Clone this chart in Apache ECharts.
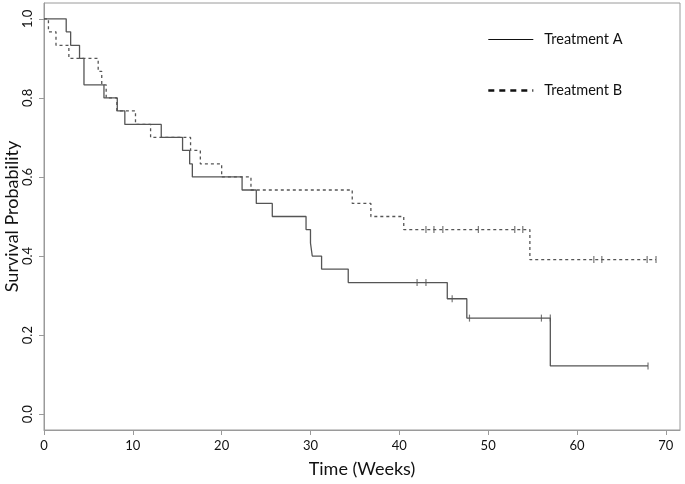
<!DOCTYPE html>
<html>
<head>
<meta charset="utf-8">
<script src="https://cdn.jsdelivr.net/npm/echarts@6/dist/echarts.min.js"></script>
<style>html,body{margin:0;padding:0;background:#fff}#c{width:685px;height:484px}</style>
</head>
<body>
<div id="c"></div>
<script>
// Treatment A (solid) step curve
const timesA = [0, 2.5, 3.0, 4.0, 4.5, 6.75, 8.25, 9.1, 13.2, 15.6, 16.4, 16.7, 22.3, 23.9, 25.7, 29.5, 30.0, 30.2, 31.25, 34.25, 45.4, 47.6, 57.0, 68.0];
const survA  = [1.0, 0.967, 0.933, 0.900, 0.833, 0.800, 0.767, 0.733, 0.700, 0.667, 0.633, 0.600, 0.567, 0.533, 0.500, 0.467, 0.433, 0.400, 0.367, 0.333, 0.292, 0.243, 0.122, 0.122];
const censorTimesA = [42.0, 43.0, 45.95, 47.9, 56.0, 57.0, 68.0];
const censorSurvA  = [0.333, 0.333, 0.292, 0.243, 0.243, 0.243, 0.122];

// Treatment B (dashed) step curve
const timesB = [0, 0.5, 1.35, 2.8, 6.1, 6.5, 7.0, 8.2, 10.3, 12.0, 16.5, 17.6, 20.0, 23.3, 34.7, 36.8, 40.5, 54.7, 68.9];
const survB  = [1.0, 0.967, 0.933, 0.900, 0.867, 0.833, 0.800, 0.767, 0.733, 0.700, 0.667, 0.633, 0.600, 0.567, 0.533, 0.500, 0.467, 0.391, 0.391];
const censorTimesB = [43.0, 43.9, 44.9, 48.9, 53.0, 53.9, 61.9, 62.8, 67.9, 68.9];
const censorSurvB  = [0.467, 0.467, 0.467, 0.467, 0.467, 0.467, 0.391, 0.391, 0.391, 0.391];

const xTicks = [0, 10, 20, 30, 40, 50, 60, 70];
const yTicks = [0, 0.2, 0.4, 0.6, 0.8, 1.0];
const seriesNames = ['Treatment A', 'Treatment B'];

const zip = (a, b) => a.map((v, i) => [v, b[i]]);
const FONT = 'Lato, "Open Sans", sans-serif';
const lineCol = '#555555';
const axisCol = '#9a9a9a';

const chart = echarts.init(document.getElementById('c'), null, {renderer: 'canvas'});
chart.setOption({
  animation: false,
  backgroundColor: '#fff',
  textStyle: {fontFamily: FONT},
  grid: {left: 44, right: 5, top: 3, bottom: 54, show: true, borderColor: axisCol, borderWidth: 1,
         containLabel: false, outerBoundsMode: 'none'},
  legend: {
    orient: 'vertical', left: 482, top: 27, itemWidth: 45, itemHeight: 14, itemGap: 36,
    textStyle: {fontFamily: FONT, fontSize: 14.5, color: '#111', padding: [0, 0, 0, 6]},
    data: [
      {name: seriesNames[0], itemStyle: {opacity: 0}, lineStyle: {color: '#111', width: 1.2, type: 'solid'}},
      {name: seriesNames[1], itemStyle: {opacity: 0}, lineStyle: {color: '#111', width: 2.6, type: [6, 5]}}
    ]
  },
  xAxis: {
    type: 'value', min: 0, max: 71.6,
    name: 'Time (Weeks)', nameLocation: 'middle', nameGap: 30, nameMoveOverlap: false,
    nameTextStyle: {fontFamily: FONT, fontSize: 18, color: '#111'},
    axisLine: {show: true, onZero: false, lineStyle: {color: axisCol}},
    axisTick: {show: true, length: 5, lineStyle: {color: axisCol}, customValues: xTicks},
    axisLabel: {fontFamily: FONT, fontSize: 13, color: '#111', margin: 9, customValues: xTicks},
    splitLine: {show: false}
  },
  yAxis: {
    type: 'value', min: -0.04, max: 1.04,
    name: 'Survival Probability', nameLocation: 'middle', nameGap: 23, nameMoveOverlap: false,
    nameTextStyle: {fontFamily: FONT, fontSize: 18, color: '#111'},
    axisLine: {show: true, onZero: false, lineStyle: {color: axisCol}},
    axisTick: {show: true, length: 5, lineStyle: {color: axisCol}, customValues: yTicks},
    axisLabel: {fontFamily: FONT, fontSize: 13, color: '#111', margin: 10, rotate: 90,
      customValues: yTicks, formatter: v => v.toFixed(1)},
    splitLine: {show: false}
  },
  series: [
    {name: seriesNames[0], type: 'line', step: 'end', symbol: 'none', data: zip(timesA, survA),
     lineStyle: {color: lineCol, width: 1.3, type: 'solid'}, itemStyle: {color: lineCol}},
    {name: seriesNames[1], type: 'line', step: 'end', symbol: 'none', data: zip(timesB, survB),
     lineStyle: {color: lineCol, width: 1.3, type: [3, 3]}, itemStyle: {color: lineCol}},
    {name: 'censorA', type: 'scatter', symbol: 'rect', symbolSize: [1.2, 7], data: zip(censorTimesA, censorSurvA),
     itemStyle: {color: lineCol}, silent: true},
    {name: 'censorB', type: 'scatter', symbol: 'rect', symbolSize: [1.2, 7], data: zip(censorTimesB, censorSurvB),
     itemStyle: {color: lineCol}, silent: true}
  ]
});
</script>
</body>
</html>
